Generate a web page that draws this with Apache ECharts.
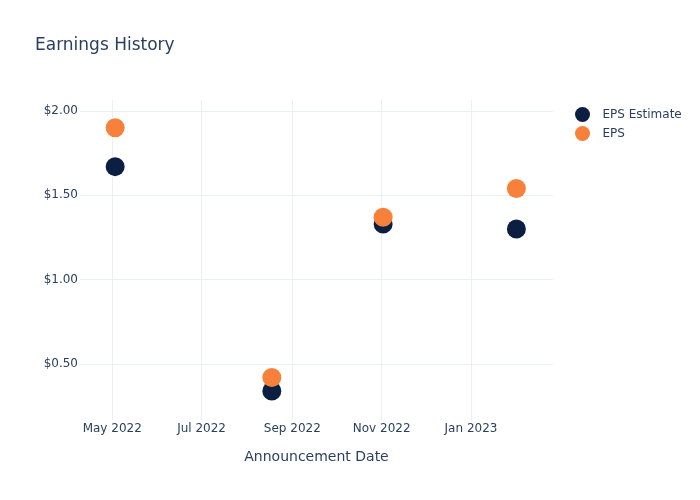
<!DOCTYPE html>
<html>
<head>
<meta charset="utf-8">
<script src="https://cdn.jsdelivr.net/npm/echarts@6/dist/echarts.min.js"></script>
<style>html,body{margin:0;padding:0;background:#fff}#c{width:700px;height:500px}</style>
</head>
<body>
<div id="c"></div>
<script>
const dates = ['2022-05-03', '2022-08-18', '2022-11-02', '2023-02-01'];
const epsEstimate = [1.67, 0.34, 1.33, 1.30];
const eps = [1.90, 0.42, 1.37, 1.54];
const xTicks = ['2022-05-01', '2022-07-01', '2022-09-01', '2022-11-01', '2023-01-01'];
const yTicks = [0.5, 1.0, 1.5, 2.0];
const monthNames = ['Jan','Feb','Mar','Apr','May','Jun','Jul','Aug','Sep','Oct','Nov','Dec'];

const ts = s => new Date(s + 'T00:00:00Z').getTime();
const xTickVals = xTicks.map(ts);
const txt = '#2a3f5f';
const grid = '#ebf0f8';
const font = '"DejaVu Sans", sans-serif';

const chart = echarts.init(document.getElementById('c'), null, {renderer: 'canvas'});
chart.setOption({
  animation: false,
  backgroundColor: '#fff',
  textStyle: {fontFamily: font},
  title: {
    text: 'Earnings History', left: 30, top: 32,
    textStyle: {fontSize: 17, fontWeight: 'normal', color: txt, fontFamily: font}
  },
  legend: {
    orient: 'vertical', left: 570, top: 102, itemGap: 4,
    icon: 'circle', itemWidth: 16, itemHeight: 15,
    textStyle: {fontSize: 12, color: txt, fontFamily: font, padding: [0, 0, 0, 7]}
  },
  grid: {left: 80, right: 147, top: 100, bottom: 80},
  xAxis: {
    type: 'value',
    min: ts('2022-04-09'), max: ts('2023-02-26'),
    name: 'Announcement Date', nameLocation: 'middle', nameGap: 30,
    nameTextStyle: {fontSize: 14, color: txt, fontFamily: font},
    axisLine: {show: false},
    axisTick: {show: false, customValues: xTickVals},
    axisLabel: {
      customValues: xTickVals, color: txt, fontSize: 12, margin: 3, fontFamily: font,
      formatter: v => { const d = new Date(v); return monthNames[d.getUTCMonth()] + ' ' + d.getUTCFullYear(); }
    },
    splitLine: {show: true, lineStyle: {color: grid, width: 1}}
  },
  yAxis: {
    type: 'value', min: 0.168, max: 2.065,
    axisLine: {show: false},
    axisTick: {show: false, customValues: yTicks},
    axisLabel: {customValues: yTicks, color: txt, fontSize: 12, margin: 2, fontFamily: font,
      formatter: v => '$' + v.toFixed(2)},
    splitLine: {show: true, lineStyle: {color: grid, width: 1}}
  },
  series: [
    {name: 'EPS Estimate', type: 'scatter', symbolSize: 19,
     itemStyle: {color: '#0c1f42', opacity: 1},
     data: dates.map((d, i) => [ts(d), epsEstimate[i]])},
    {name: 'EPS', type: 'scatter', symbolSize: 19,
     itemStyle: {color: '#f7813a', opacity: 1},
     data: dates.map((d, i) => [ts(d), eps[i]])}
  ]
});
</script>
</body>
</html>
